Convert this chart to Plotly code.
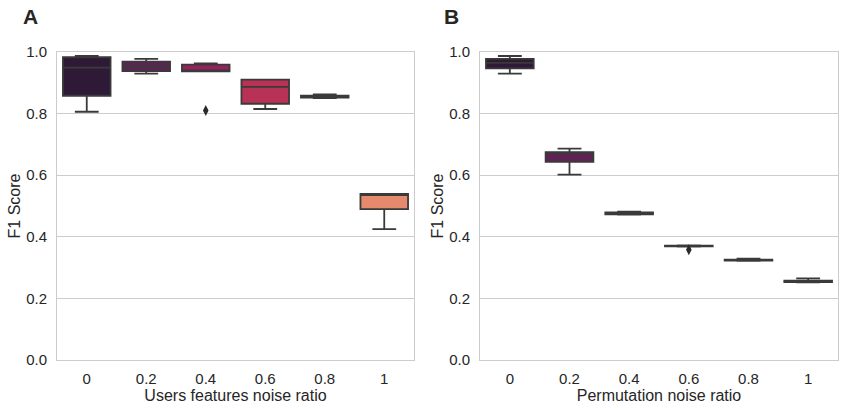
import plotly.graph_objects as go

# ---------------- data ----------------
categories = ["0", "0.2", "0.4", "0.6", "0.8", "1"]
box_colors = ["#2e1a37", "#5e2255", "#96215f", "#b83256", "#d8434c", "#e58a6c"]

# Panel A: Users features noise ratio
a_lowerfence = [0.806, 0.930, 0.937, 0.815, 0.850, 0.425]
a_q1 = [0.858, 0.938, 0.937, 0.832, 0.852, 0.490]
a_median = [0.949, 0.953, 0.940, 0.887, 0.856, 0.539]
a_q3 = [0.983, 0.969, 0.959, 0.910, 0.858, 0.539]
a_upperfence = [0.987, 0.978, 0.963, 0.910, 0.862, 0.539]
a_outlier_cat = ["0.4"]
a_outlier_val = [0.810]

# Panel B: Permutation noise ratio
b_lowerfence = [0.930, 0.602, 0.472, 0.368, 0.322, 0.252]
b_q1 = [0.947, 0.643, 0.473, 0.369, 0.323, 0.253]
b_median = [0.965, 0.672, 0.476, 0.370, 0.324, 0.255]
b_q3 = [0.978, 0.675, 0.479, 0.371, 0.326, 0.258]
b_upperfence = [0.987, 0.686, 0.482, 0.372, 0.329, 0.265]
b_outlier_cat = ["0.6"]
b_outlier_val = [0.358]

y_ticks = [0.0, 0.2, 0.4, 0.6, 0.8, 1.0]

# ---------------- figure ----------------
fig = go.Figure()
edge = "#3a3a3a"

def add_panel(xaxis, yaxis, lf, q1, med, q3, uf, oc, ov):
    for i, cat in enumerate(categories):
        fig.add_trace(go.Box(
            x=[cat], lowerfence=[lf[i]], q1=[q1[i]], median=[med[i]],
            q3=[q3[i]], upperfence=[uf[i]],
            fillcolor=box_colors[i], line=dict(color=edge, width=1.8),
            width=0.8, whiskerwidth=0.5, boxpoints=False,
            xaxis=xaxis, yaxis=yaxis, showlegend=False, hoverinfo="skip",
        ))
    fig.add_trace(go.Scatter(
        x=oc, y=ov, mode="markers",
        marker=dict(symbol="diamond-tall", size=8, color="#2a2a2a"),
        xaxis=xaxis, yaxis=yaxis, showlegend=False, hoverinfo="skip",
    ))

add_panel("x", "y", a_lowerfence, a_q1, a_median, a_q3, a_upperfence, a_outlier_cat, a_outlier_val)
add_panel("x2", "y2", b_lowerfence, b_q1, b_median, b_q3, b_upperfence, b_outlier_cat, b_outlier_val)

font_family = "Liberation Sans, Arial, sans-serif"
text_color = "#262626"

xcommon = dict(
    type="category", categoryorder="array", categoryarray=categories,
    range=[-0.5, 5.5], showgrid=False, showline=True, mirror=True,
    linecolor="#cccccc", linewidth=1, ticks="", zeroline=False,
    automargin=False,
    tickfont=dict(size=15, color=text_color), ticklabelstandoff=5,
    title_font=dict(size=16, color=text_color), title_standoff=2,
)
ycommon = dict(
    range=[0, 1.0], tickvals=y_ticks, tickformat=".1f",
    showgrid=True, gridcolor="#cccccc", gridwidth=1,
    showline=True, mirror=True, linecolor="#cccccc", linewidth=1,
    zeroline=False, ticks="", automargin=False,
    tickfont=dict(size=15, color=text_color), ticklabelstandoff=6,
    title_text="F1 Score", title_font=dict(size=16, color=text_color),
    title_standoff=1,
)

W, H = 844, 410
ml, mr, mt, mb = 57, 6, 52, 50
pw = W - ml - mr
ph = H - mt - mb
left_end = (414 - ml) / pw
right_start = (480 - ml) / pw

fig.update_layout(
    width=W, height=H,
    margin=dict(l=ml, r=mr, t=mt, b=mb, autoexpand=False),
    paper_bgcolor="white", plot_bgcolor="white",
    font=dict(family=font_family, color=text_color),
    xaxis=dict(domain=[0, left_end], anchor="y",
               title_text="Users features noise ratio", **xcommon),
    xaxis2=dict(domain=[right_start, 1], anchor="y2",
                title_text="Permutation noise ratio", **xcommon),
    yaxis=dict(domain=[0, 1], anchor="x", **ycommon),
    yaxis2=dict(domain=[0, 1], anchor="x2", **ycommon),
    annotations=[
        dict(text="<b>A</b>", x=(30 - ml) / pw, y=1 + (mt - 16) / ph,
             xref="paper", yref="paper", showarrow=False,
             font=dict(size=21, color=text_color), xanchor="center", yanchor="middle"),
        dict(text="<b>B</b>", x=(452 - ml) / pw, y=1 + (mt - 16) / ph,
             xref="paper", yref="paper", showarrow=False,
             font=dict(size=21, color=text_color), xanchor="center", yanchor="middle"),
    ],
)

fig.write_html("out.html", config={"displayModeBar": False},
               post_script="document.body.style.margin='0px';document.body.style.padding='0px';")
